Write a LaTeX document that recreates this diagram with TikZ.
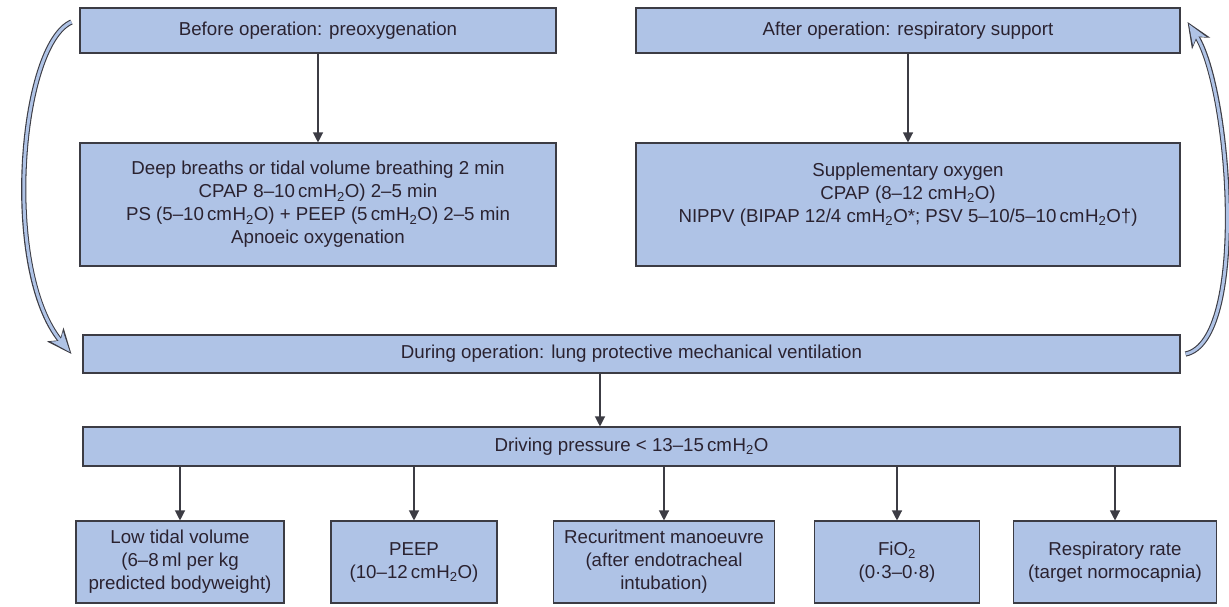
\documentclass[tikz,border=0pt]{standalone}
\usepackage{fontspec}
\setmainfont{Liberation Sans}
\usetikzlibrary{arrows.meta}
\definecolor{boxblue}{HTML}{AFC3E6}
\definecolor{boxedge}{HTML}{3C3C44}
\definecolor{inktext}{HTML}{2A2230}
\newcommand{\cmwater}{cm\kern0.5pt H\textsubscript{2}O}

\begin{document}
\begin{tikzpicture}[x=1pt,y=-1pt,
  box/.style={draw=boxedge,line width=1.1pt,fill=boxblue,text=inktext,align=center,
    inner sep=0pt,font=\fontsize{18.7}{23}\selectfont},
  flow/.style={draw=boxedge,line width=1.2pt,-{Triangle[length=10pt,width=10pt]}},
  loop/.style={draw=boxedge,line width=5.2pt,-{Stealth[length=25pt,width=21pt,inset=7pt]},
    postaction={draw=boxblue,line width=3pt,shorten >=2.5pt,
      -{Stealth[length=20pt,width=15.5pt,inset=5.5pt]}}}]
  \useasboundingbox (0,0) rectangle (1229,606);
  % before and after the operation
  \node[box,minimum width=476pt,minimum height=45pt] (before) at (318,30.5) {Before operation: preoxygenation};
  \node[box,minimum width=544pt,minimum height=45pt] (after) at (908,30.5) {After operation: respiratory support};
  \node[box,minimum width=476pt,minimum height=123pt] (deep) at (318,204.5)
    {Deep breaths or tidal volume breathing 2 min\\CPAP 8--10\,\cmwater) 2--5 min\\
     PS (5--10\,\cmwater) + PEEP (5\,\cmwater) 2--5 min\\Apnoeic oxygenation};
  \node[box,minimum width=544pt,minimum height=123pt] (supp) at (908,204.5)
    {Supplementary oxygen\\CPAP (8--12 \cmwater)\\
     NIPPV (BIPAP 12/4 \cmwater*; PSV 5--10/5--10\,\cmwater†)\\\mbox{}};
  \draw[flow] (before) -- (deep);
  \draw[flow] (after) -- (supp);
  % during the operation
  \node[box,minimum width=1097pt,minimum height=38pt] (during) at (631.5,354)
    {During operation: lung protective mechanical ventilation};
  \node[box,minimum width=1097pt,minimum height=39pt] (driving) at (631.5,446.5)
    {Driving pressure < 13--15\,\cmwater};
  \draw[flow] ([xshift=-31.5pt]during.south) -- ([xshift=-31.5pt]driving.north);
  % settings
  \node[box,minimum width=208pt,minimum height=82pt] (tidal) at (180,562)
    {Low tidal volume\\(6--8\,ml per kg\\predicted bodyweight)};
  \node[box,minimum width=166pt,minimum height=82pt] (peep) at (414,562)
    {PEEP\\(10--12\,\cmwater)};
  \node[box,minimum width=221pt,minimum height=82pt] (recruit) at (664,562)
    {Recuritment manoeuvre\\(after endotracheal\\intubation)};
  \node[box,minimum width=165pt,minimum height=82pt] (fio) at (897,562)
    {FiO\textsubscript{2}\\(0·3--0·8)};
  \node[box,minimum width=203pt,minimum height=82pt] (rate) at (1115,562)
    {Respiratory rate\\(target normocapnia)};
  \foreach \b in {tidal,peep,recruit,fio,rate}
    \draw[flow] (driving.south -| \b.north) -- (\b.north);
  % cycle arrows
  \draw[loop] ([xshift=-8pt,yshift=8.5pt]before.west) .. controls +(-52,23) and +(-70,-84) .. ([xshift=-11pt]during.west);
  \draw[loop] ([xshift=5pt]during.east) .. controls +(63,-13) and +(43,68) .. ([xshift=7pt,yshift=8.5pt]after.east);
\end{tikzpicture}
\end{document}
